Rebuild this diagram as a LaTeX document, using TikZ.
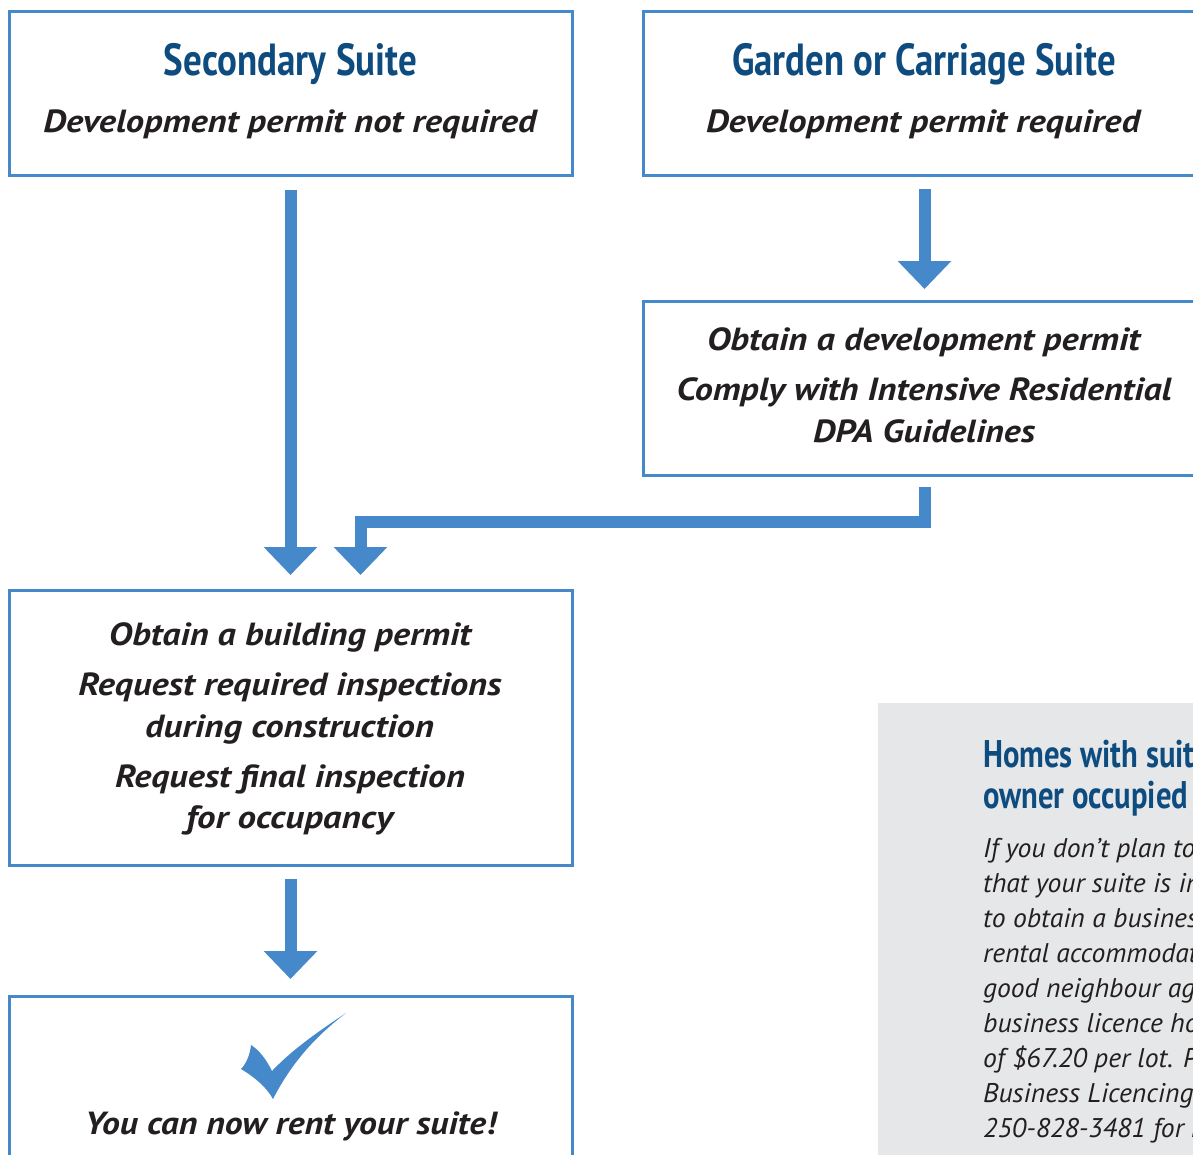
\documentclass[tikz,border=0pt]{standalone}
\usepackage{fontspec}
\setmainfont{PT Sans}
\usetikzlibrary{arrows.meta}
\definecolor{flowblue}{RGB}{69,137,202}
\definecolor{ttlblue}{RGB}{14,76,128}
\definecolor{txt}{RGB}{35,31,32}
\definecolor{panel}{RGB}{230,231,232}
\newcommand\ttlfont{\fontsize{45}{45}\selectfont\bfseries}
\newcommand\boxfont{\fontsize{32}{32}\selectfont\bfseries\itshape}
\newcommand\hfont{\fontsize{38.5}{38.5}\selectfont\bfseries}
\newcommand\bodyfont{\fontsize{27}{27}\selectfont\itshape}
\newcommand\fitw[2]{\resizebox{#1pt}{\height}{#2}}
\newlength\mylen
\newsavebox\mybox
\begin{document}
\sbox\mybox{\hfont owner occupied}\setlength\mylen{\wd\mybox}
\pgfmathsetmacro\hfac{205/\mylen}
\sbox\mybox{\bodyfont of \$67.20 per lot.}\setlength\mylen{\wd\mybox}
\pgfmathsetmacro\bfac{190/\mylen}
\begin{tikzpicture}[x=1pt,y=-1pt,
  box/.style={draw=flowblue,line width=3pt,fill=white,inner sep=0pt,outer sep=0pt,anchor=north west,minimum width=563pt},
  ttl/.style={anchor=base,text=ttlblue,inner sep=0pt},
  lbl/.style={anchor=base,text=txt,inner sep=0pt},
  gtxt/.style={anchor=base west,inner sep=0pt},
  flow/.style={draw=flowblue,line width=12pt,line join=miter,-{Triangle[width=52pt,length=28pt]}}]
\useasboundingbox (0,0) rectangle (1193,1154);
\clip (0,0) rectangle (1193,1154);
\fill[white] (0,0) rectangle (1193,1154);
% side panel
\node[fill=panel,anchor=north west,minimum width=400pt,minimum height=500pt,inner sep=0pt,outer sep=0pt] (gp) at (878,703) {};
% boxes
\node[box,minimum height=164pt] (b1) at (9,11) {};
\node[box,minimum height=164pt] (b2) at (643,11) {};
\node[box,minimum height=173.5pt] (b3) at (643,301.5) {};
\node[box,minimum height=275pt] (b4) at (9,590) {};
\node[box,minimum height=220pt] (b5) at (9,996.5) {};
% texts
\node[ttl] (t1) at (290.5,75) {\fitw{253}{\ttlfont Secondary Suite}};
\node[lbl] (s1) at (290,132) {\fitw{493}{\boxfont Development permit not required}};
\node[ttl] (t2) at (924,75) {\fitw{384}{\ttlfont Garden or Carriage Suite}};
\node[lbl] (s2) at (923,132) {\fitw{434}{\boxfont Development permit required}};
\node[lbl] (d1) at (923.5,350) {\fitw{433}{\boxfont Obtain a development permit}};
\node[lbl] (d2) at (924,400) {\fitw{495}{\boxfont Comply with Intensive Residential}};
\node[lbl] (d3) at (924,442) {\fitw{222}{\boxfont DPA Guidelines}};
\node[lbl] (p1) at (290,645) {\fitw{362}{\boxfont Obtain a building permit}};
\node[lbl] (p2) at (290,695) {\fitw{423}{\boxfont Request required inspections}};
\node[lbl] (p3) at (289.5,737) {\fitw{289}{\boxfont during construction}};
\node[lbl] (p4) at (290,787) {\fitw{350}{\boxfont Request final inspection}};
\node[lbl] (p5) at (289.5,828) {\fitw{207}{\boxfont for occupancy}};
\node[lbl] (r1) at (290.5,1134) {\fitw{411}{\boxfont You can now rent your suite!}};
% check mark
\fill[flowblue] (273,1099) .. controls (292,1062) and (316,1036) .. (346,1013)
  .. controls (316,1033) and (292,1050) .. (272,1071)
  .. controls (266,1059) and (259,1050) .. (251,1045)
  .. controls (250,1055) and (246,1064) .. (241,1069)
  .. controls (256,1078) and (267,1088) .. (273,1099) -- cycle;
% side panel text
\node[gtxt,text=ttlblue] (h1) at (983,767) {\scalebox{\hfac}[1]{\hfont Homes with suites must be}};
\node[gtxt,text=ttlblue] (h2) at (983,808) {\scalebox{\hfac}[1]{\hfont owner occupied}};
\node[gtxt,text=txt] (g1) at (983,857) {\scalebox{\bfac}[1]{\bodyfont If you don’t plan to live in your home, note}};
\node[gtxt,text=txt] (g2) at (983,892) {\scalebox{\bfac}[1]{\bodyfont that your suite is in your home, you will need}};
\node[gtxt,text=txt] (g3) at (983,927) {\scalebox{\bfac}[1]{\bodyfont to obtain a business licence for}};
\node[gtxt,text=txt] (g4) at (983,962) {\scalebox{\bfac}[1]{\bodyfont rental accommodation and sign a}};
\node[gtxt,text=txt] (g5) at (983,997) {\scalebox{\bfac}[1]{\bodyfont good neighbour agreement. The}};
\node[gtxt,text=txt] (g6) at (983,1032) {\scalebox{\bfac}[1]{\bodyfont business licence holder pays a fee}};
\node[gtxt,text=txt] (g7) at (983,1067) {\scalebox{\bfac}[1]{\bodyfont of \$67.20 per lot. Please contact}};
\node[gtxt,text=txt] (g8) at (983,1102) {\scalebox{\bfac}[1]{\bodyfont Business Licencing at}};
\node[gtxt,text=txt] (g9) at (983,1137) {\scalebox{\bfac}[1]{\bodyfont 250-828-3481 for more information.}};
% connectors
\draw[flow] ([yshift=-14.5pt]b1.south) -- ([yshift=15pt]b4.north);
\draw[flow] ([yshift=-14pt]b2.south) -- ([yshift=12.5pt]b3.north);
\coordinate (j2) at ([xshift=70pt,yshift=15pt]b4.north);
\draw[flow] ([yshift=-12pt]b3.south) |- ([yshift=53pt]j2) -- (j2);
\draw[flow] ([yshift=-14pt]b4.south) -- ([yshift=17.5pt]b5.north);
\end{tikzpicture}
\end{document}
